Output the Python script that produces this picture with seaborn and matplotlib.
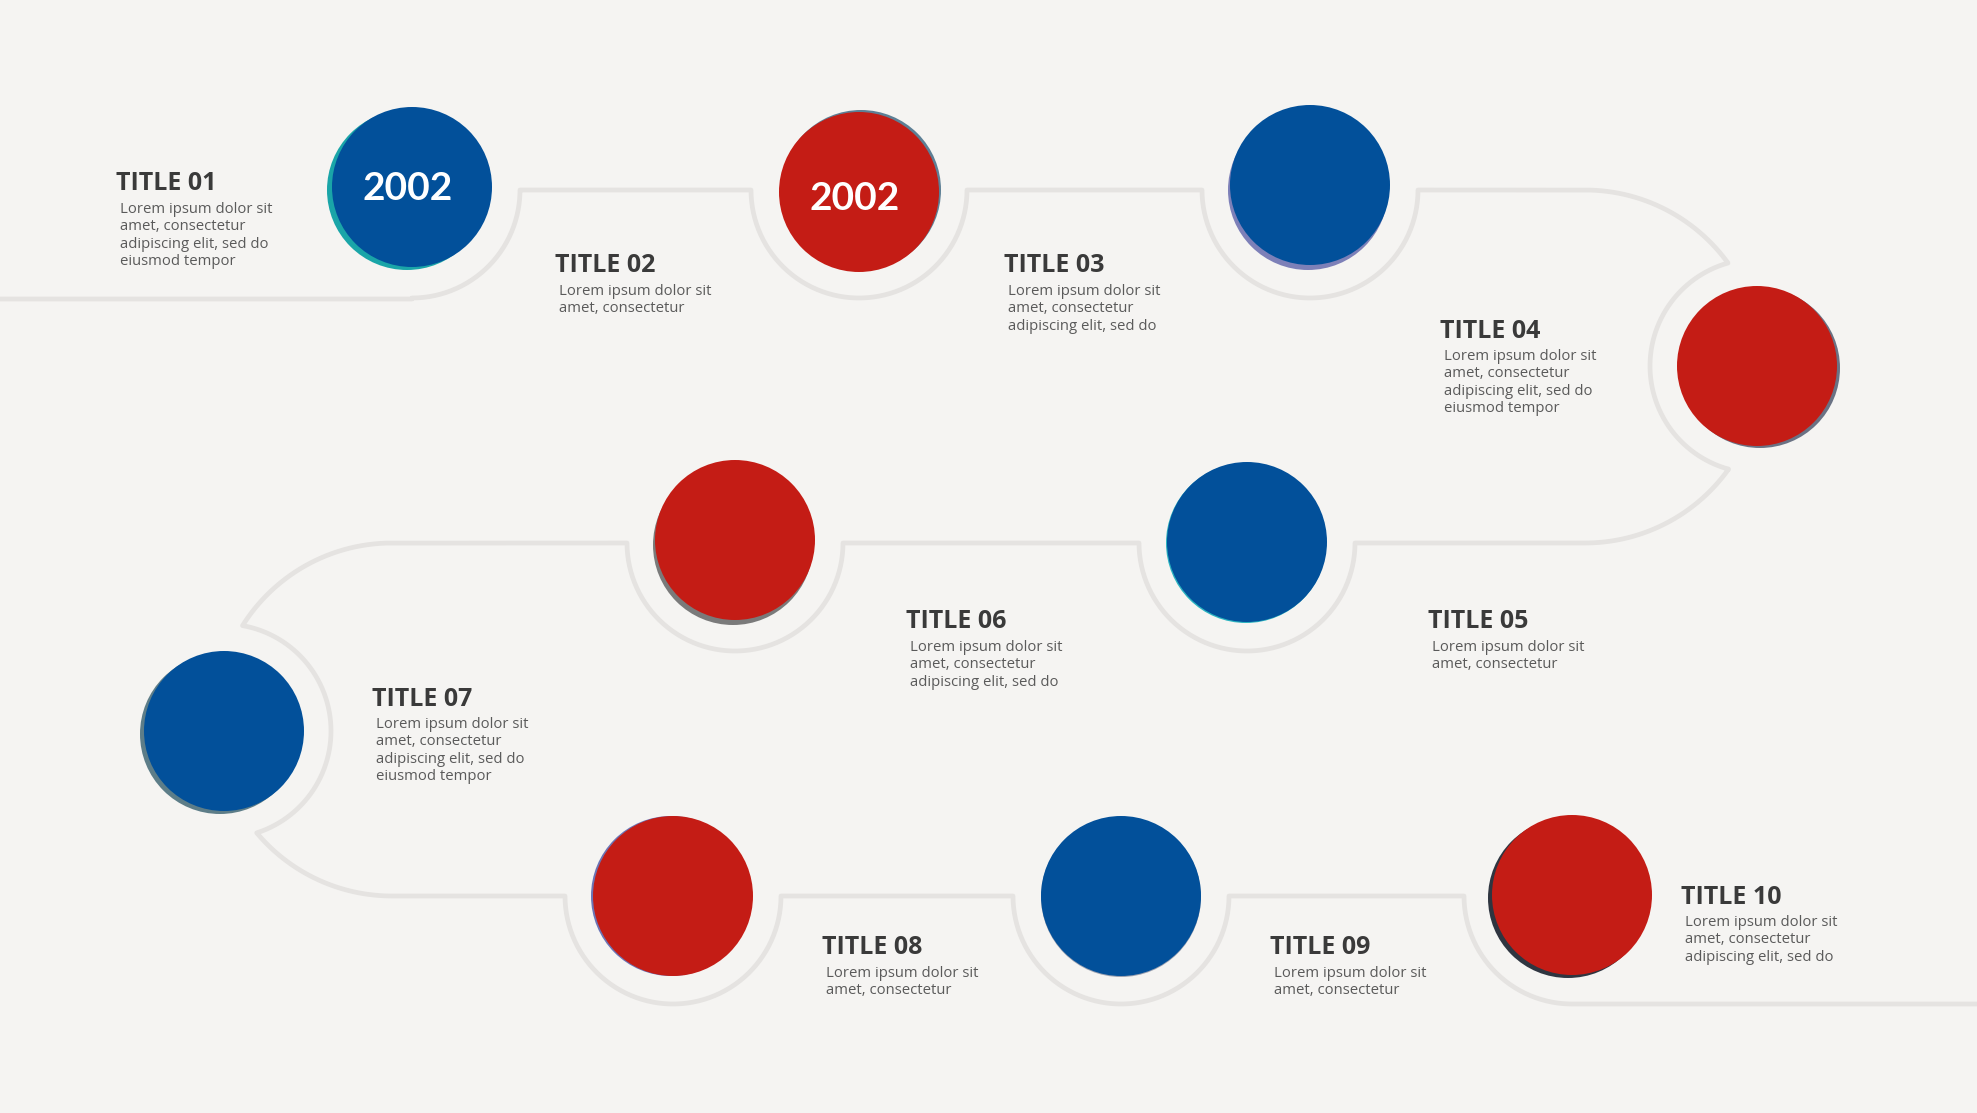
import numpy as np
import pandas as pd
import seaborn as sns
import matplotlib.pyplot as plt
from matplotlib.patches import Circle

# circle centres (px, y down), radius ~80
circle_x = [412, 859, 1310, 1757, 1247, 735, 224, 673, 1121, 1572]
circle_y = [187, 192, 185, 366, 542, 540, 731, 896, 896, 895]
circle_kind = ['blue', 'red', 'blue', 'red', 'blue', 'red', 'blue', 'red', 'blue', 'red']
year_labels = ['2002', '2002', '', '', '', '', '', '', '', '']

titles = ['TITLE 01', 'TITLE 02', 'TITLE 03', 'TITLE 04', 'TITLE 05',
          'TITLE 06', 'TITLE 07', 'TITLE 08', 'TITLE 09', 'TITLE 10']
body_lines = [4, 2, 3, 4, 2, 3, 4, 2, 2, 3]
lorem = ['Lorem ipsum dolor sit', 'amet, consectetur',
         'adipiscing elit, sed do', 'eiusmod tempor']

# text anchors: title left x, title centre y
title_x = [116, 555, 1004, 1440, 1428, 906, 372, 822, 1270, 1681]
title_y = [184, 266, 266, 331, 622, 622, 699, 948, 948, 897]
year_dy = [1, 6]

# path rows
row_y = [190, 543, 896]
start_y = 299
end_y = 1004

W, H = 1977, 1113
R_CIRC = 80
R_NOTCH = 108
BG = '#f5f4f2'
LINE = '#e5e3e1'
COLORS = {'blue': '#02509a', 'red': '#c41c15'}
SHADOW = ['#1aa5a8', '#5d7f95', '#7d80b8', '#6a7284', '#2ab3c0',
          '#7a7a7a', '#5d7d88', '#6b74b5', '#9aa0b0', '#2f3540']
SHADOW_OFF = [(-5, 3), (2, -2), (-2, 5), (3, 2), (-1, 1),
              (-2, 5), (-4, 3), (-2, 0), (0, 1), (-4, 3)]


def arc(cx, cy, r, a0, a1, n=60):
    t = np.radians(np.linspace(a0, a1, n))
    return list(zip(cx + r * np.cos(t), cy + r * np.sin(t)))


def cross_angles(c1, R, c2, r, upper=True):
    # intersection of two circles -> angle on each circle
    d = np.hypot(c2[0] - c1[0], c2[1] - c1[1])
    a = (R**2 - r**2 + d**2) / (2 * d)
    h = np.sqrt(R**2 - a**2)
    ux, uy = (c2[0] - c1[0]) / d, (c2[1] - c1[1]) / d
    px, py = c1[0] + a * ux, c1[1] + a * uy
    p1 = (px + h * uy, py - h * ux)
    p2 = (px - h * uy, py + h * ux)
    p = p1 if (p1[1] < p2[1]) == upper else p2
    ang1 = np.degrees(np.arctan2(p[1] - c1[1], p[0] - c1[0]))
    ang2 = np.degrees(np.arctan2(p[1] - c2[1], p[0] - c2[0]))
    return ang1, ang2


pts = []
# row 1, left to right
pts += [(0, start_y), (circle_x[0], start_y)]
pts += arc(circle_x[0], row_y[0], R_NOTCH, 90, 0)
for i in (1, 2):
    pts += [(circle_x[i] - R_NOTCH, row_y[0])]
    pts += arc(circle_x[i], row_y[0], R_NOTCH, 180, 0)
cap_r = (row_y[1] - row_y[0]) / 2
cap_c = (1585, (row_y[0] + row_y[1]) / 2)
pts += [(cap_c[0], row_y[0])]
n4 = (circle_x[3], circle_y[3])
a_up, b_up = cross_angles(cap_c, cap_r, n4, R_NOTCH - 1, upper=True)
a_dn, b_dn = cross_angles(cap_c, cap_r, n4, R_NOTCH - 1, upper=False)
pts += arc(cap_c[0], cap_c[1], cap_r, -90, a_up)
pts += arc(n4[0], n4[1], R_NOTCH - 1, b_up % 360, b_dn % 360)
pts += arc(cap_c[0], cap_c[1], cap_r, a_dn, 90)
# row 2, right to left
for i in (4, 5):
    pts += [(circle_x[i] + R_NOTCH, row_y[1])]
    pts += arc(circle_x[i], row_y[1], R_NOTCH, 0, 180)
cap2_r = (row_y[2] - row_y[1]) / 2
cap2_c = (392, (row_y[1] + row_y[2]) / 2)
pts += [(cap2_c[0], row_y[1])]
n7 = (circle_x[6], circle_y[6])
a_up, b_up = cross_angles(cap2_c, cap2_r, n7, R_NOTCH - 1, upper=True)
a_dn, b_dn = cross_angles(cap2_c, cap2_r, n7, R_NOTCH - 1, upper=False)
pts += arc(cap2_c[0], cap2_c[1], cap2_r, 270, a_up % 360)
pts += arc(n7[0], n7[1], R_NOTCH - 1, b_up, b_dn)
pts += arc(cap2_c[0], cap2_c[1], cap2_r, a_dn, 90)
# row 3, left to right
for i in (7, 8):
    pts += [(circle_x[i] - R_NOTCH, row_y[2])]
    pts += arc(circle_x[i], row_y[2], R_NOTCH, 180, 0)
pts += [(circle_x[9] - R_NOTCH, row_y[2])]
pts += arc(circle_x[9], row_y[2], R_NOTCH, 180, 90)
pts += [(W, end_y)]

path = pd.DataFrame(pts, columns=['x', 'y'])

sns.set_theme(style='white', rc={'axes.facecolor': BG, 'figure.facecolor': BG})
plt.rcParams['font.family'] = ['Open Sans', 'DejaVu Sans']

fig = plt.figure(figsize=(W / 100, H / 100), dpi=100)
ax = fig.add_axes([0, 0, 1, 1])
sns.lineplot(data=path, x='x', y='y', sort=False, estimator=None,
             color=LINE, linewidth=3.4, ax=ax)

for i in range(len(circle_x)):
    dx, dy = SHADOW_OFF[i]
    ax.add_patch(Circle((circle_x[i] + dx, circle_y[i] + dy), R_CIRC,
                        color=SHADOW[i], lw=0, zorder=3))
    ax.add_patch(Circle((circle_x[i], circle_y[i]), R_CIRC,
                        color=COLORS[circle_kind[i]], lw=0, zorder=4))
    if year_labels[i]:
        ax.text(circle_x[i] - 4, circle_y[i] + year_dy[i], year_labels[i],
                color='white', fontsize=28, fontweight='bold',
                family=['Lato', 'DejaVu Sans'],
                ha='center', va='center', zorder=5)

for i in range(len(titles)):
    ax.text(title_x[i], title_y[i], titles[i], fontsize=18, fontweight='bold',
            color='#3a3a3a', ha='left', va='center')
    txt = '\n'.join(lorem[:body_lines[i]])
    ax.text(title_x[i] + 4, title_y[i] + 18, txt, fontsize=10.7,
            color='#5a5a5a', ha='left', va='top', linespacing=1.22)

ax.set_xlim(0, W)
ax.set_ylim(H, 0)
ax.set_axis_off()
fig.savefig('out.png', dpi=100, facecolor=BG)
